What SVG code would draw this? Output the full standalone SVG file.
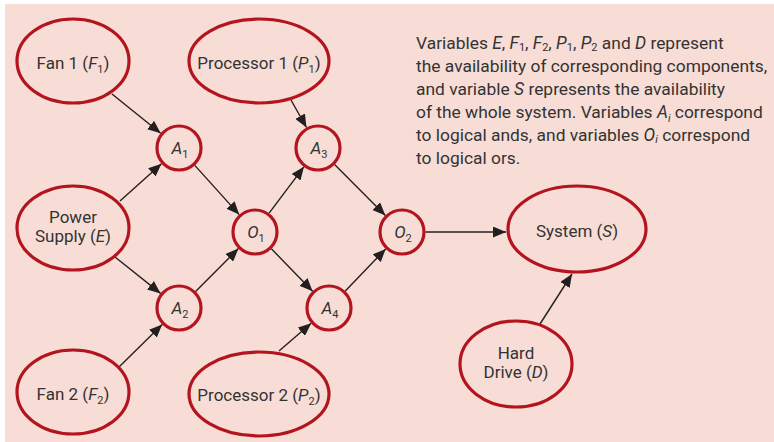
<svg xmlns="http://www.w3.org/2000/svg" width="774" height="442" viewBox="0 0 774 442">
  <style>
    .node { fill: none; stroke: #b3141d; stroke-width: 3.2; }
    .lbl { font-family: Roboto, "Liberation Sans", sans-serif; font-size: 17px; fill: #333; text-anchor: middle; }
    .gate { font-family: Roboto, "Liberation Sans", sans-serif; font-size: 17px; fill: #333; text-anchor: middle; font-style: italic; }
    .sub { font-size: 11px; font-style: normal; }
    .it { font-style: italic; }
    .note { font-family: Roboto, "Liberation Sans", sans-serif; font-size: 17.4px; fill: #333; }
    .edge { stroke: #231f20; stroke-width: 1.4; fill: none; marker-end: url(#arrow); }
  </style>
  <defs>
    <marker id="arrow" markerUnits="userSpaceOnUse" markerWidth="14" markerHeight="11" refX="13" refY="5.5" orient="auto">
      <path d="M0,0 L13,5.5 L0,11 z" fill="#231f20"/>
    </marker>
  </defs>

  <rect x="5" y="4" width="769" height="438" fill="#f7ddd5"/>

  <!-- connectors -->
  <g id="edges">
    <line class="edge" x1="112" y1="94" x2="160.7" y2="133.2"/>
    <line class="edge" x1="120" y1="201" x2="161.5" y2="163.7"/>
    <line class="edge" x1="115" y1="257" x2="160.6" y2="293.4"/>
    <line class="edge" x1="119" y1="367" x2="162.2" y2="324.5"/>
    <line class="edge" x1="194.8" y1="165.4" x2="239.2" y2="214.6"/>
    <line class="edge" x1="195.6" y1="291.4" x2="238.4" y2="248.6"/>
    <line class="edge" x1="291" y1="100" x2="306.5" y2="127.5"/>
    <line class="edge" x1="269.1" y1="213.2" x2="303.9" y2="166.8"/>
    <line class="edge" x1="334.6" y1="164.6" x2="385.4" y2="215.4"/>
    <line class="edge" x1="271.4" y1="248.8" x2="312.6" y2="291.2"/>
    <line class="edge" x1="279" y1="351" x2="311.2" y2="323.3"/>
    <line class="edge" x1="345.3" y1="291.1" x2="385.7" y2="248.9"/>
    <line class="edge" x1="425.5" y1="232" x2="506" y2="232"/>
    <line class="edge" x1="540" y1="324" x2="572" y2="274"/>
  </g>

  <g id="fan1">
    <ellipse class="node" cx="73" cy="61" rx="56" ry="42"/>
    <text class="lbl" x="73" y="69">Fan 1 (<tspan class="it">F</tspan><tspan class="sub" dy="4">1</tspan><tspan dy="-4">)</tspan></text>
  </g>
  <g id="processor1">
    <ellipse class="node" cx="259" cy="61" rx="70" ry="42"/>
    <text class="lbl" x="259" y="69">Processor 1 (<tspan class="it">P</tspan><tspan class="sub" dy="4">1</tspan><tspan dy="-4">)</tspan></text>
  </g>
  <g id="power">
    <ellipse class="node" cx="73" cy="228" rx="56" ry="42"/>
    <text class="lbl" x="73" y="223">Power</text>
    <text class="lbl" x="73" y="242">Supply (<tspan class="it">E</tspan>)</text>
  </g>
  <g id="fan2">
    <ellipse class="node" cx="73" cy="392" rx="56" ry="42"/>
    <text class="lbl" x="73" y="400">Fan 2 (<tspan class="it">F</tspan><tspan class="sub" dy="4">2</tspan><tspan dy="-4">)</tspan></text>
  </g>
  <g id="processor2">
    <ellipse class="node" cx="259" cy="394" rx="70" ry="42"/>
    <text class="lbl" x="259" y="401">Processor 2 (<tspan class="it">P</tspan><tspan class="sub" dy="4">2</tspan><tspan dy="-4">)</tspan></text>
  </g>

  <g id="A1">
    <circle class="node" cx="179" cy="148" r="22"/>
    <text class="gate" x="180" y="154">A<tspan class="sub" dy="4">1</tspan></text>
  </g>
  <g id="A2">
    <circle class="node" cx="179" cy="308" r="22"/>
    <text class="gate" x="180" y="314">A<tspan class="sub" dy="4">2</tspan></text>
  </g>
  <g id="A3">
    <circle class="node" cx="318" cy="148" r="22"/>
    <text class="gate" x="319" y="154">A<tspan class="sub" dy="4">3</tspan></text>
  </g>
  <g id="A4">
    <circle class="node" cx="329" cy="308" r="22"/>
    <text class="gate" x="330" y="314">A<tspan class="sub" dy="4">4</tspan></text>
  </g>
  <g id="O1">
    <circle class="node" cx="255" cy="232" r="22"/>
    <text class="gate" x="256" y="238">O<tspan class="sub" dy="4">1</tspan></text>
  </g>
  <g id="O2">
    <circle class="node" cx="402" cy="232" r="22"/>
    <text class="gate" x="403" y="238">O<tspan class="sub" dy="4">2</tspan></text>
  </g>

  <g id="system">
    <ellipse class="node" cx="577" cy="229" rx="69" ry="43"/>
    <text class="lbl" x="577" y="237">System (<tspan class="it">S</tspan>)</text>
  </g>
  <g id="harddrive">
    <ellipse class="node" cx="516" cy="364" rx="56" ry="43"/>
    <text class="lbl" x="516" y="359">Hard</text>
    <text class="lbl" x="516" y="378">Drive (<tspan class="it">D</tspan>)</text>
  </g>

  <!-- explanatory note -->
  <g id="note" class="note">
    <text x="416" y="49">Variables <tspan class="it">E</tspan>, <tspan class="it">F</tspan><tspan class="sub" dy="2">1</tspan><tspan dy="-2">, </tspan><tspan class="it">F</tspan><tspan class="sub" dy="2">2</tspan><tspan dy="-2">, </tspan><tspan class="it">P</tspan><tspan class="sub" dy="2">1</tspan><tspan dy="-2">, </tspan><tspan class="it">P</tspan><tspan class="sub" dy="2">2</tspan><tspan dy="-2"> and </tspan><tspan class="it">D</tspan> represent</text>
    <text x="416" y="72">the availability of corresponding components,</text>
    <text x="416" y="95">and variable <tspan class="it">S</tspan> represents the availability</text>
    <text x="416" y="118">of the whole system. Variables <tspan class="it">A</tspan><tspan class="sub it" dy="4">i</tspan><tspan dy="-4"> correspond</tspan></text>
    <text x="416" y="141">to logical ands, and variables <tspan class="it">O</tspan><tspan class="sub it" dy="2">i</tspan><tspan dy="-2"> correspond</tspan></text>
    <text x="416" y="164">to logical ors.</text>
  </g>
</svg>
